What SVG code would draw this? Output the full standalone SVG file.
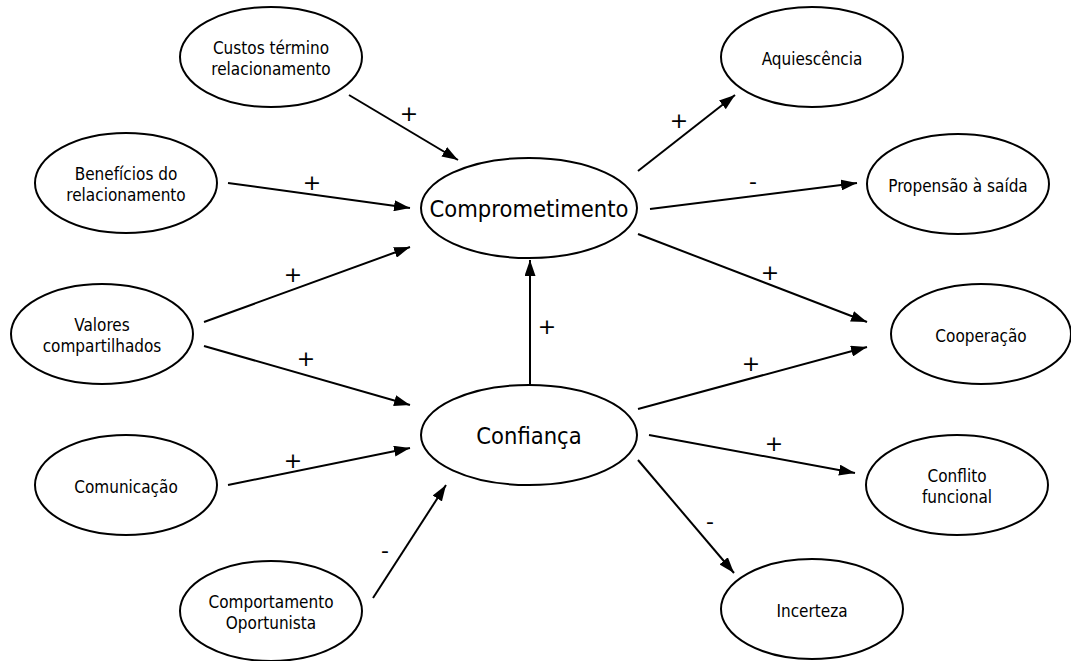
<svg xmlns="http://www.w3.org/2000/svg" width="1071" height="661" viewBox="0 0 1071 661">
<defs>
<marker id="ah" viewBox="0 0 16 11" refX="16" refY="5.5" markerWidth="16" markerHeight="11" markerUnits="userSpaceOnUse" orient="auto">
<path d="M0,0 L16,5.5 L0,11 z" fill="#000"/>
</marker>
<style>
.n ellipse{fill:#fff;stroke:#000;stroke-width:2}
.n text{font-family:"DejaVu Sans Condensed","Liberation Sans",sans-serif;font-size:17px;text-anchor:middle;fill:#000}
.n text.big{font-size:23.5px}
#edges line{stroke:#000;stroke-width:2;marker-end:url(#ah)}
#edges text{font-family:"DejaVu Sans","Liberation Sans",sans-serif;font-size:22px;text-anchor:middle;fill:#000}
</style>
</defs>
<rect width="1071" height="661" fill="#fff"/>
<g id="edges">
<line x1="349" y1="95" x2="458" y2="160"/>
<line x1="228" y1="183" x2="410" y2="208"/>
<line x1="204" y1="322" x2="410" y2="247"/>
<line x1="204" y1="346" x2="410" y2="405"/>
<line x1="228" y1="485" x2="410" y2="448"/>
<line x1="373" y1="598" x2="446" y2="485"/>
<line x1="530" y1="385" x2="530" y2="260"/>
<line x1="638" y1="171" x2="735" y2="95"/>
<line x1="650" y1="209" x2="857" y2="183"/>
<line x1="638" y1="234" x2="867" y2="322"/>
<line x1="638" y1="409" x2="867" y2="347"/>
<line x1="649" y1="435" x2="855" y2="473"/>
<line x1="638" y1="460" x2="734" y2="573"/>
<text x="409" y="121">+</text>
<text x="312" y="190">+</text>
<text x="293" y="282">+</text>
<text x="306" y="366">+</text>
<text x="293" y="468">+</text>
<text x="385" y="558">-</text>
<text x="547" y="334">+</text>
<text x="679" y="128">+</text>
<text x="753" y="189">-</text>
<text x="770" y="280">+</text>
<text x="751" y="371">+</text>
<text x="774" y="451">+</text>
<text x="710" y="529">-</text>
</g>
<g id="custos" class="n"><ellipse cx="271" cy="57" rx="91" ry="50"/><text x="271" y="54">Custos término</text><text x="271" y="75">relacionamento</text></g>
<g id="beneficios" class="n"><ellipse cx="126" cy="183" rx="91" ry="50"/><text x="126" y="180">Benefícios do</text><text x="126" y="201">relacionamento</text></g>
<g id="valores" class="n"><ellipse cx="102" cy="334" rx="91" ry="50"/><text x="102" y="331">Valores</text><text x="102" y="352">compartilhados</text></g>
<g id="comunicacao" class="n"><ellipse cx="126" cy="485" rx="91" ry="50"/><text x="126" y="493">Comunicação</text></g>
<g id="comportamento" class="n"><ellipse cx="271" cy="611" rx="91" ry="50"/><text x="271" y="608">Comportamento</text><text x="271" y="629">Oportunista</text></g>
<g id="comprometimento" class="n"><ellipse cx="529" cy="208" rx="108" ry="50"/><text class="big" x="529" y="217">Comprometimento</text></g>
<g id="confianca" class="n"><ellipse cx="529" cy="435" rx="108" ry="50"/><text class="big" x="529" y="444">Confiança</text></g>
<g id="aquiescencia" class="n"><ellipse cx="812" cy="57" rx="91" ry="50"/><text x="812" y="65">Aquiescência</text></g>
<g id="propensao" class="n"><ellipse cx="958" cy="184" rx="91" ry="50"/><text x="958" y="192">Propensão à saída</text></g>
<g id="cooperacao" class="n"><ellipse cx="981" cy="334" rx="90" ry="50"/><text x="981" y="342">Cooperação</text></g>
<g id="conflito" class="n"><ellipse cx="957" cy="485" rx="91" ry="50"/><text x="957" y="482">Conflito</text><text x="957" y="503">funcional</text></g>
<g id="incerteza" class="n"><ellipse cx="812" cy="609" rx="91" ry="50"/><text x="812" y="617">Incerteza</text></g>
</svg>
